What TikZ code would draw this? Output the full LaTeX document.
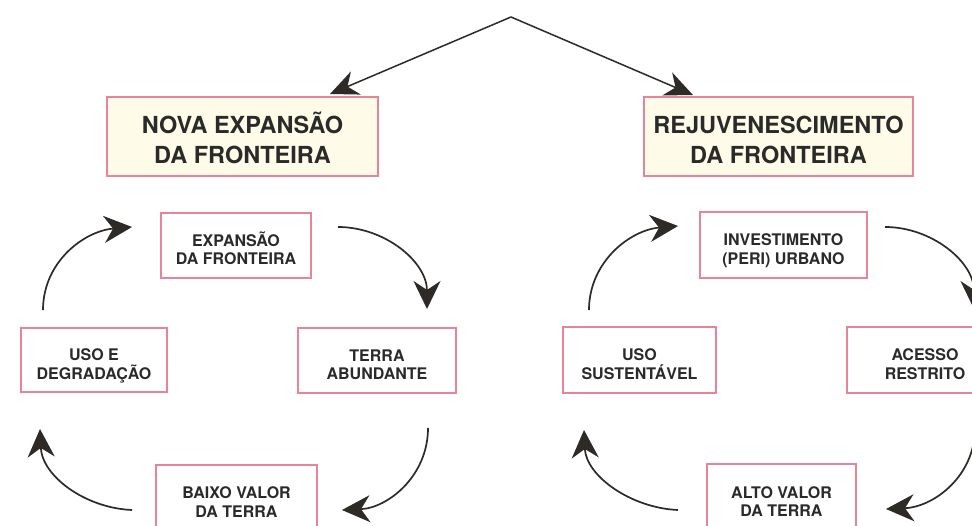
\documentclass[tikz,border=0pt]{standalone}
\usepackage{fontspec}
\setmainfont{TeX Gyre Heros}
\usetikzlibrary{arrows.meta}
\definecolor{boxpink}{HTML}{E8849A}
\definecolor{cream}{HTML}{FEFCE8}
\definecolor{inkc}{HTML}{2A2A2A}
\definecolor{arrowc}{HTML}{2E2A26}
\tikzset{
  bigbox/.style={draw=boxpink, line width=1.2pt, fill=cream, text=inkc, align=center,
    font=\bfseries\fontsize{23.5}{30}\selectfont, inner sep=0pt,
    text height=55pt, text depth=0pt},
  smallbox/.style={draw=boxpink, line width=1.2pt, fill=white, text=inkc, align=center,
    font=\bfseries\fontsize{16}{18.5}\selectfont, inner sep=0pt,
    text height=39pt, text depth=0pt},
  cyclearrow/.style={draw=arrowc, line width=1.7pt,
    -{Stealth[length=28pt, width=27pt, inset=9pt]}},
  toparrow/.style={draw=arrowc, line width=1.5pt,
    -{Stealth[length=28pt, width=25pt, inset=9pt]}}
}
\begin{document}
\begin{tikzpicture}[x=1pt,y=-1pt]
\useasboundingbox (0,0) rectangle (972,526);
\clip (0,0) rectangle (972,526);
\fill[white] (0,0) rectangle (972,526);

% big boxes
\node[bigbox, minimum width=271pt, minimum height=79pt] (lbig) at (242.5,136.5) {NOVA EXPANSÃO\\DA FRONTEIRA};
\node[bigbox, minimum width=269pt, minimum height=79pt] (rbig) at (778.5,136.5) {REJUVENESCIMENTO\\DA FRONTEIRA};

% top connectors
\coordinate (apex) at (511,17);
\coordinate (ltip) at (330,94);
\coordinate (rtip) at (693,95);
\draw[toparrow] (apex) -- (ltip);
\draw[toparrow] (apex) -- (rtip);

% left cycle
\node[smallbox, minimum width=150pt, minimum height=65pt] (lexp) at (236,245.5) {EXPANSÃO\\DA FRONTEIRA};
\node[smallbox, minimum width=146pt, minimum height=64pt] (luso) at (94,360) {USO E\\DEGRADAÇÃO};
\node[smallbox, minimum width=158pt, minimum height=65pt] (lterra) at (377,360.5) {TERRA\\ABUNDANTE};
\node[smallbox, minimum width=161pt, minimum height=65pt] (lbaixo) at (236.5,497.5) {BAIXO VALOR\\DA TERRA};

\coordinate (l1s) at (43,310);  \coordinate (l1e) at (132,227);
\coordinate (l2s) at (338,227); \coordinate (l2e) at (427,309);
\coordinate (l3s) at (428,428); \coordinate (l3e) at (342,510);
\coordinate (l4s) at (132,510); \coordinate (l4e) at (40,429);
\draw[cyclearrow] (l1s) .. controls (43,262) and (84,231) .. (l1e);
\draw[cyclearrow] (l2s) .. controls (385,227) and (427,262) .. (l2e);
\draw[cyclearrow] (l3s) .. controls (428,476) and (388,508) .. (l3e);
\draw[cyclearrow] (l4s) .. controls (85,508) and (42,476) .. (l4e);

% right cycle
\node[smallbox, minimum width=167pt, minimum height=66pt] (rinv) at (783.5,245) {INVESTIMENTO\\(PERI) URBANO};
\node[smallbox, minimum width=153pt, minimum height=66pt] (ruso) at (639.5,360) {USO\\SUSTENTÁVEL};
\node[smallbox, minimum width=156pt, minimum height=66pt] (racesso) at (925,360) {ACESSO\\RESTRITO};
\node[smallbox, minimum width=149pt, minimum height=66pt] (ralto) at (781.5,497) {ALTO VALOR\\DA TERRA};

\coordinate (r1s) at (589,310); \coordinate (r1e) at (678,226);
\coordinate (r2s) at (885,227); \coordinate (r2e) at (974,309);
\coordinate (r3s) at (975,428); \coordinate (r3e) at (886,509);
\coordinate (r4s) at (678,510); \coordinate (r4e) at (584,430);
\draw[cyclearrow] (r1s) .. controls (589,262) and (630,230) .. (r1e);
\draw[cyclearrow] (r2s) .. controls (932,227) and (974,262) .. (r2e);
\draw[cyclearrow] (r3s) .. controls (975,476) and (934,507) .. (r3e);
\draw[cyclearrow] (r4s) .. controls (631,508) and (586,476) .. (r4e);
\end{tikzpicture}
\end{document}
